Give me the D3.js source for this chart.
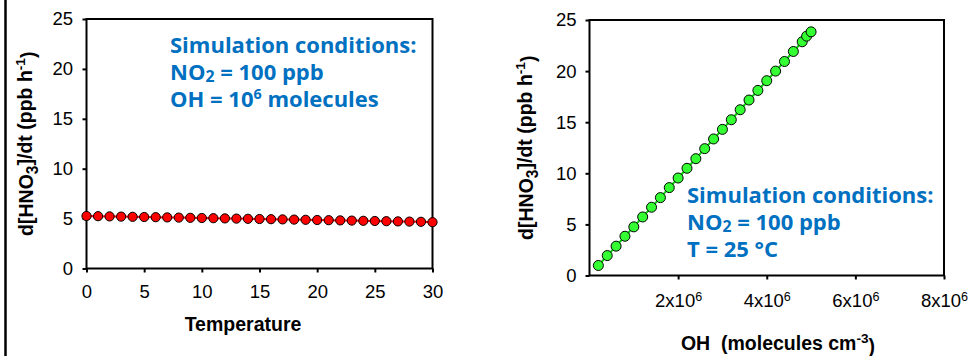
<!DOCTYPE html>
<html>
<head>
<meta charset="utf-8">
<script src="https://cdn.jsdelivr.net/npm/d3@7"></script>
<style>
  html, body { margin: 0; padding: 0; background: #fff; }
  svg { display: block; }
  .tick text { font-family: "Liberation Sans", Arial, sans-serif; font-size: 18.5px; fill: #000; }
  .title { font-family: "Liberation Sans", Arial, sans-serif; font-size: 19.5px; font-weight: bold; fill: #000; }
  .note { font-family: "Open Sans", Lato, sans-serif; font-size: 22px; font-weight: bold; fill: #0070c0; }
</style>
</head>
<body>
<svg id="chart" width="969" height="356"></svg>
<script>
// left panel: rate vs temperature
const tempX = d3.range(0, 31);
const tempRate = [5.26, 5.24, 5.22, 5.20, 5.18, 5.16, 5.14, 5.12, 5.10, 5.08, 5.06, 5.04, 5.02, 5.00, 4.98,
  4.96, 4.94, 4.92, 4.90, 4.88, 4.86, 4.84, 4.82, 4.80, 4.78, 4.76, 4.74, 4.72, 4.70, 4.68, 4.64];
const tempTicks = [0, 5, 10, 15, 20, 25, 30];

// right panel: rate vs OH
const ohX = [0.2e6, 0.4e6, 0.6e6, 0.8e6, 1.0e6, 1.2e6, 1.4e6, 1.6e6, 1.8e6, 2.0e6, 2.2e6, 2.4e6, 2.6e6,
  2.8e6, 3.0e6, 3.2e6, 3.4e6, 3.6e6, 3.8e6, 4.0e6, 4.2e6, 4.4e6, 4.6e6, 4.8e6, 4.9e6, 5.0e6];
const ohRate = [0.98, 1.95, 2.87, 3.84, 4.76, 5.73, 6.68, 7.62, 8.60, 9.54, 10.49, 11.43, 12.41,
  13.36, 14.30, 15.24, 16.22, 17.17, 18.11, 19.06, 20.00, 20.94, 21.92, 22.87, 23.42, 23.84];
const ohTicks = [2e6, 4e6, 6e6, 8e6];

const yTicks = [0, 5, 10, 15, 20, 25];

const svg = d3.select('#chart');

// thin border line at the far left
svg.append('line')
  .attr('x1', 5.5).attr('x2', 5.5).attr('y1', 0).attr('y2', 356)
  .attr('stroke', '#000').attr('stroke-width', 2.5);

function supLabel(sel, base, sup) {
  sel.text(null);
  sel.append('tspan').text(base);
  sel.append('tspan').attr('dy', '-0.45em').attr('font-size', '0.68em').text(sup);
}

function drawPanel(p) {
  const x = d3.scaleLinear().domain(p.xDomain).range([p.left, p.right]);
  const y = d3.scaleLinear().domain([0, 25]).range([p.bottom, p.top]);

  const g = svg.append('g');

  // frame
  g.append('rect')
    .attr('x', p.left).attr('y', p.top)
    .attr('width', p.right - p.left).attr('height', p.bottom - p.top)
    .attr('fill', 'none').attr('stroke', '#000').attr('stroke-width', 2);

  const xAxis = g.append('g')
    .attr('transform', `translate(0,${p.bottom})`)
    .call(d3.axisBottom(x).tickValues(p.xTicks).tickSize(4).tickSizeOuter(0).tickPadding(p.xPad)
      .tickFormat(p.xFormat || d3.format('d')));
  xAxis.select('.domain').remove();
  xAxis.selectAll('line').attr('stroke', '#000').attr('stroke-width', 2);
  if (p.xSup) {
    xAxis.selectAll('.tick text').each(function (d) {
      supLabel(d3.select(this), `${d / 1e6}x10`, '6');
    });
  }

  const yAxis = g.append('g')
    .attr('transform', `translate(${p.left},0)`)
    .call(d3.axisLeft(y).tickValues(yTicks).tickSize(4).tickSizeOuter(0).tickPadding(p.yPad));
  yAxis.select('.domain').remove();
  yAxis.selectAll('line').attr('stroke', '#000').attr('stroke-width', 2);

  if (p.lineColor) {
    g.append('path')
      .datum(p.xs.map((v, i) => [v, p.ys[i]]))
      .attr('fill', 'none').attr('stroke', p.lineColor).attr('stroke-width', 2)
      .attr('d', d3.line().x(d => x(d[0])).y(d => y(d[1])));
  }

  g.selectAll('circle.pt')
    .data(p.xs.map((v, i) => [v, p.ys[i]]))
    .join('circle')
    .attr('class', 'pt')
    .attr('cx', d => x(d[0])).attr('cy', d => y(d[1]))
    .attr('r', p.r)
    .attr('fill', p.dotColor).attr('stroke', '#000').attr('stroke-width', 1);

  // y title
  const yt = g.append('text').attr('class', 'title')
    .attr('transform', `translate(${p.yTitleX},${(p.top + p.bottom) / 2}) rotate(-90)`)
    .attr('text-anchor', 'middle');
  yt.append('tspan').text('d[HNO');
  yt.append('tspan').attr('font-size', '0.8em').attr('dy', '0.3em').text('3');
  yt.append('tspan').attr('dy', '-0.3em').text(']/dt (ppb h');
  yt.append('tspan').attr('font-size', '0.7em').attr('dy', '-0.5em').text('-1');
  yt.append('tspan').attr('dy', '0.5em').text(')');

  // x title
  const xt = g.append('text').attr('class', 'title')
    .attr('x', p.xTitleX).attr('y', p.xTitleY).attr('text-anchor', 'middle');
  p.xTitle(xt);

  // simulation notes
  const note = g.append('text').attr('class', 'note');
  p.notes.forEach((line, i) => {
    const t = note.append('tspan').attr('x', p.noteX).attr('y', p.noteY + i * 27);
    line.forEach(seg => {
      const s = t.append('tspan').text(seg.t);
      if (seg.sub) s.attr('font-size', '0.72em').attr('dy', '0.1em');
      if (seg.sup) s.attr('font-size', '0.65em').attr('dy', '-0.55em');
      if (seg.back) s.attr('dy', seg.back);
    });
  });
}

drawPanel({
  left: 86.5, right: 432.5, top: 19, bottom: 268.5,
  xDomain: [0, 30], xTicks: tempTicks, xPad: 12, yPad: 9.5,
  xs: tempX, ys: tempRate, r: 4.6, dotColor: '#ff0000', lineColor: '#ff0000',
  yTitleX: 33,
  xTitleX: 243, xTitleY: 331,
  xTitle: t => t.text('Temperature'),
  noteX: 170, noteY: 53,
  notes: [
    [{ t: 'Simulation conditions:' }],
    [{ t: 'NO' }, { t: '2', sub: true }, { t: ' = 100 ppb', back: '-0.07em' }],
    [{ t: 'OH = 10' }, { t: '6', sup: true }, { t: ' molecules', back: '0.36em' }]
  ]
});

drawPanel({
  left: 589.5, right: 944, top: 20, bottom: 275.5,
  xDomain: [0, 8e6], xTicks: ohTicks, xPad: 14, yPad: 9, xSup: true,
  xs: ohX, ys: ohRate, r: 5, dotColor: '#33ff33', lineColor: '#00cc00',
  yTitleX: 533,
  xTitleX: 778, xTitleY: 350,
  xTitle: t => {
    t.append('tspan').text('OH\u00a0 (molecules cm');
    t.append('tspan').attr('font-size', '0.7em').attr('dy', '-0.5em').text('-3');
    t.append('tspan').attr('dy', '0.5em').text(')');
  },
  noteX: 687, noteY: 203,
  notes: [
    [{ t: 'Simulation conditions:' }],
    [{ t: 'NO' }, { t: '2', sub: true }, { t: ' = 100 ppb', back: '-0.07em' }],
    [{ t: 'T = 25 \u00b0C' }]
  ]
});
</script>
</body>
</html>
